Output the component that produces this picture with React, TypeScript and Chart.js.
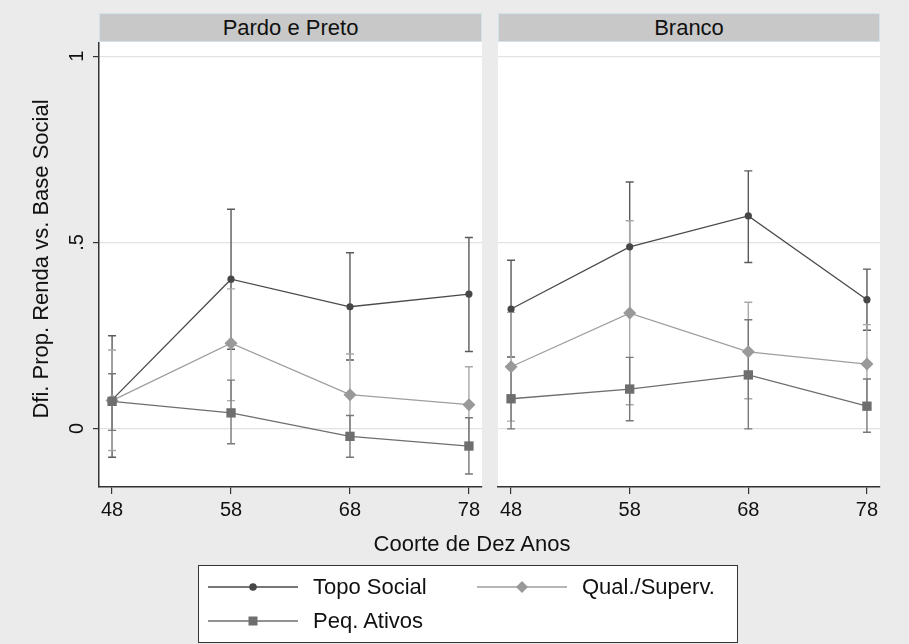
import React, { useEffect, useRef } from "react";
import { Chart, registerables } from "chart.js";

Chart.register(...registerables);

// ---------- data ----------
const years = [48, 58, 68, 78];
const xTicks = [48, 58, 68, 78];
const yTicks = [0, 0.5, 1];
const yTickLabels = ["0", ".5", "1"];
const panelTitles = ["Pardo e Preto", "Branco"];
const seriesNames = ["Topo Social", "Qual./Superv.", "Peq. Ativos"];
const yTitle = "Dfi. Prop. Renda vs. Base Social";
const xTitle = "Coorte de Dez Anos";

// Pardo e Preto
const topoPP = [0.077, 0.401, 0.327, 0.361];
const topoPPLo = [-0.077, 0.213, 0.184, 0.207];
const topoPPHi = [0.249, 0.589, 0.472, 0.513];
const qualPP = [0.075, 0.229, 0.091, 0.064];
const qualPPLo = [-0.059, 0.075, -0.018, -0.038];
const qualPPHi = [0.211, 0.375, 0.2, 0.166];
const peqPP = [0.073, 0.042, -0.021, -0.047];
const peqPPLo = [-0.005, -0.041, -0.077, -0.122];
const peqPPHi = [0.147, 0.13, 0.035, 0.029];

// Branco
const topoB = [0.321, 0.488, 0.571, 0.346];
const topoBLo = [0.192, 0.314, 0.446, 0.264];
const topoBHi = [0.452, 0.662, 0.692, 0.428];
const qualB = [0.166, 0.31, 0.206, 0.173];
const qualBLo = [0.02, 0.064, 0.08, 0.067];
const qualBHi = [0.312, 0.558, 0.339, 0.279];
const peqB = [0.08, 0.106, 0.144, 0.06];
const peqBLo = [-0.001, 0.021, -0.001, -0.01];
const peqBHi = [0.161, 0.191, 0.292, 0.133];

// ---------- styles ----------
const FONT = "'Liberation Sans', Arial, sans-serif";
const X_MIN = 46.9;
const X_MAX = 79.1;
const Y_MIN = -0.157;
const Y_MAX = 1.038;

const topoColor = "#4a4a4a";
const qualColor = "#9e9e9e";
const peqColor = "#6e6e6e";
const topoErr = "#5a5a5a";
const qualErr = "#a8a8a8";
const peqErr = "#787878";

function makeDatasets(
  topo: number[], topoLo: number[], topoHi: number[],
  qual: number[], qualLo: number[], qualHi: number[],
  peq: number[], peqLo: number[], peqHi: number[]
) {
  const pts = (vals: number[]) => years.map((x, i) => ({ x, y: vals[i] }));
  return [
    {
      label: seriesNames[0],
      data: pts(topo),
      lower: topoLo,
      upper: topoHi,
      errColor: topoErr,
      borderColor: topoColor,
      backgroundColor: topoColor,
      borderWidth: 1.3,
      pointStyle: "circle",
      pointRadius: 3.6,
      pointBorderWidth: 0,
      pointBackgroundColor: "#474747",
      order: 2,
    },
    {
      label: seriesNames[1],
      data: pts(qual),
      lower: qualLo,
      upper: qualHi,
      errColor: qualErr,
      borderColor: qualColor,
      backgroundColor: qualColor,
      borderWidth: 1.3,
      pointStyle: "rectRot",
      pointRadius: 6.5,
      pointBorderWidth: 0,
      pointBackgroundColor: "#999999",
      order: 1,
    },
    {
      label: seriesNames[2],
      data: pts(peq),
      lower: peqLo,
      upper: peqHi,
      errColor: peqErr,
      borderColor: peqColor,
      backgroundColor: peqColor,
      borderWidth: 1.3,
      pointStyle: "rect",
      pointRadius: 6.6,
      pointBorderWidth: 0,
      pointBackgroundColor: "#6e6e6e",
      order: 0,
    },
  ];
}

const bgPlugin = {
  id: "plotBg",
  beforeDraw(chart: any) {
    const { ctx, chartArea: a } = chart;
    ctx.save();
    ctx.fillStyle = "#ffffff";
    ctx.fillRect(a.left, a.top, a.right - a.left, a.bottom - a.top);
    ctx.restore();
  },
};

const errorBarPlugin = {
  id: "errorBars",
  beforeDatasetsDraw(chart: any) {
    const ctx = chart.ctx;
    const yScale = chart.scales.y;
    const xScale = chart.scales.x;
    chart.data.datasets.forEach((ds: any) => {
      ctx.save();
      ctx.strokeStyle = ds.errColor;
      ctx.lineWidth = 1.4;
      ds.data.forEach((p: any, j: number) => {
        const px = xScale.getPixelForValue(p.x);
        const yl = yScale.getPixelForValue(ds.lower[j]);
        const yh = yScale.getPixelForValue(ds.upper[j]);
        ctx.beginPath();
        ctx.moveTo(px, yl);
        ctx.lineTo(px, yh);
        ctx.moveTo(px - 4, yl);
        ctx.lineTo(px + 4, yl);
        ctx.moveTo(px - 4, yh);
        ctx.lineTo(px + 4, yh);
        ctx.stroke();
      });
      ctx.restore();
    });
  },
};

const yLabelPlugin = {
  id: "yLabels",
  afterDraw(chart: any) {
    if (!chart.options.plugins.yLabels?.show) return;
    const ctx = chart.ctx;
    const yScale = chart.scales.y;
    ctx.save();
    ctx.font = `20px ${FONT}`;
    ctx.fillStyle = "#111111";
    ctx.textAlign = "center";
    ctx.textBaseline = "middle";
    yTicks.forEach((v, i) => {
      const py = yScale.getPixelForValue(v);
      ctx.save();
      ctx.translate(77, py);
      ctx.rotate(-Math.PI / 2);
      ctx.fillText(yTickLabels[i], 0, 0);
      ctx.restore();
    });
    ctx.restore();
  },
};

const CANVAS_TOP = 42;
const CANVAS_H = 490;
const PLOT_H = 445;

function Panel(props: {
  left: number;
  width: number;
  padLeft: number;
  padRight: number;
  yAxisWidth: number;
  showY: boolean;
  datasets: any[];
}) {
  const ref = useRef<HTMLCanvasElement>(null);
  useEffect(() => {
    if (!ref.current) return;
    const chart = new Chart(ref.current, {
      type: "line",
      data: { datasets: props.datasets as any },
      options: {
        animation: false,
        responsive: false,
        devicePixelRatio: 1,
        layout: {
          autoPadding: false,
          padding: { left: props.padLeft, right: props.padRight, top: 0, bottom: 0 },
        },
        plugins: {
          legend: { display: false },
          tooltip: { enabled: false },
          yLabels: { show: props.showY },
        } as any,
        scales: {
          x: {
            type: "linear",
            min: X_MIN,
            max: X_MAX,
            afterBuildTicks: (s: any) => {
              s.ticks = xTicks.map((v) => ({ value: v }));
            },
            afterFit: (s: any) => {
              s.height = CANVAS_H - PLOT_H;
            },
            grid: {
              drawOnChartArea: false,
              drawTicks: true,
              tickLength: 7,
              color: "#333333",
              lineWidth: 1.2,
            },
            border: { display: true, color: "#333333", width: 1.5 },
            ticks: {
              padding: 4,
              color: "#111111",
              font: { family: FONT, size: 20 },
              maxRotation: 0,
              minRotation: 0,
              callback: (v: any) => String(v),
            },
          },
          y: {
            type: "linear",
            min: Y_MIN,
            max: Y_MAX,
            afterBuildTicks: (s: any) => {
              s.ticks = yTicks.map((v) => ({ value: v }));
            },
            afterFit: (s: any) => {
              s.width = props.yAxisWidth;
            },
            grid: {
              drawOnChartArea: true,
              drawTicks: props.showY,
              tickLength: 6,
              color: "#e2e2e2",
              tickColor: "#333333",
              lineWidth: 1.2,
            },
            border: { display: props.showY, color: "#333333", width: 1.5 },
            ticks: { display: false },
          },
        },
      } as any,
      plugins: [bgPlugin, errorBarPlugin, yLabelPlugin],
    });
    return () => chart.destroy();
  }, []);
  return (
    <canvas
      ref={ref}
      width={props.width}
      height={CANVAS_H}
      style={{
        position: "absolute",
        left: props.left,
        top: CANVAS_TOP,
        width: props.width,
        height: CANVAS_H,
      }}
    />
  );
}

function Header(props: { left: number; width: number; text: string }) {
  return (
    <div
      style={{
        position: "absolute",
        left: props.left,
        top: 13,
        width: props.width,
        height: 29,
        boxSizing: "border-box",
        background: "#c8c8c8",
        border: "1px solid #d2e2ea",
        fontFamily: FONT,
        fontSize: 22,
        color: "#111",
        textAlign: "center",
        lineHeight: "27px",
      }}
    >
      {props.text}
    </div>
  );
}

function LegendItem(props: {
  left: number;
  cy: number;
  color: string;
  marker: "circle" | "diamond" | "square";
  markerColor: string;
  text: string;
}) {
  const w = 90;
  const h = 16;
  const mid = w / 2;
  let marker: React.ReactNode = null;
  if (props.marker === "circle") {
    marker = <circle cx={mid} cy={h / 2} r={3.8} fill={props.markerColor} />;
  } else if (props.marker === "diamond") {
    marker = (
      <polygon
        points={`${mid - 6},${h / 2} ${mid},${h / 2 - 6} ${mid + 6},${h / 2} ${mid},${h / 2 + 6}`}
        fill={props.markerColor}
      />
    );
  } else {
    marker = <rect x={mid - 4.5} y={h / 2 - 4.5} width={9} height={9} fill={props.markerColor} />;
  }
  return (
    <>
      <svg
        width={w}
        height={h}
        style={{ position: "absolute", left: props.left, top: props.cy - h / 2 }}
      >
        <line x1={0} y1={h / 2} x2={w} y2={h / 2} stroke={props.color} strokeWidth={1.3} />
        {marker}
      </svg>
      <div
        style={{
          position: "absolute",
          left: props.left + 105,
          top: props.cy - 13,
          height: 26,
          lineHeight: "26px",
          fontFamily: FONT,
          fontSize: 22,
          color: "#111",
          whiteSpace: "nowrap",
        }}
      >
        {props.text}
      </div>
    </>
  );
}

export default function App() {
  const dsPP = makeDatasets(topoPP, topoPPLo, topoPPHi, qualPP, qualPPLo, qualPPHi, peqPP, peqPPLo, peqPPHi);
  const dsB = makeDatasets(topoB, topoBLo, topoBHi, qualB, qualBLo, qualBHi, peqB, peqBLo, peqBHi);
  return (
    <div
      style={{
        position: "fixed",
        left: 0,
        top: 0,
        width: 909,
        height: 644,
        background: "#ebebeb",
        overflow: "hidden",
      }}
    >
      <Header left={99} width={383} text={panelTitles[0]} />
      <Header left={498} width={382} text={panelTitles[1]} />
      <Panel left={0} width={490} padLeft={0} padRight={8} yAxisWidth={99} showY={true} datasets={dsPP} />
      <Panel left={490} width={419} padLeft={8} padRight={29} yAxisWidth={0} showY={false} datasets={dsB} />
      <div
        style={{
          position: "absolute",
          left: 41 - 200,
          top: 259 - 14,
          width: 400,
          height: 28,
          lineHeight: "28px",
          textAlign: "center",
          transform: "rotate(-90deg)",
          fontFamily: FONT,
          fontSize: 22,
          color: "#111",
          whiteSpace: "nowrap",
        }}
      >
        {yTitle}
      </div>
      <div
        style={{
          position: "absolute",
          left: 472 - 200,
          top: 544 - 14,
          width: 400,
          height: 28,
          lineHeight: "28px",
          textAlign: "center",
          fontFamily: FONT,
          fontSize: 22,
          color: "#111",
          whiteSpace: "nowrap",
        }}
      >
        {xTitle}
      </div>
      <div
        style={{
          position: "absolute",
          left: 198,
          top: 565,
          width: 540,
          height: 78,
          boxSizing: "border-box",
          background: "#ffffff",
          border: "1.5px solid #333333",
        }}
      />
      <LegendItem left={208} cy={587} color={topoColor} marker="circle" markerColor="#474747" text={seriesNames[0]} />
      <LegendItem left={477} cy={587} color={qualColor} marker="diamond" markerColor="#999999" text={seriesNames[1]} />
      <LegendItem left={208} cy={621} color={peqColor} marker="square" markerColor="#6e6e6e" text={seriesNames[2]} />
    </div>
  );
}
